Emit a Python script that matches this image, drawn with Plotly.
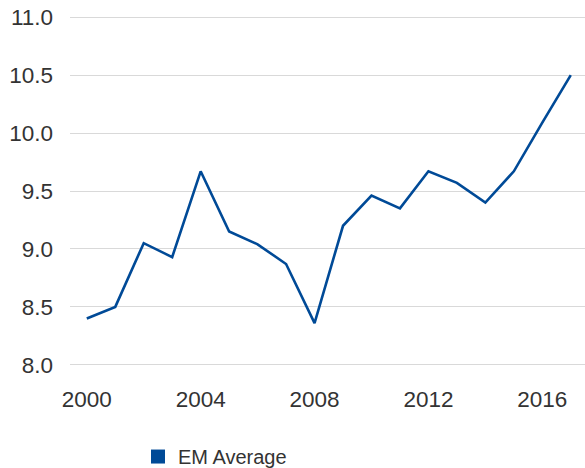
import plotly.graph_objects as go

years = list(range(2000, 2018))
em_average = [8.40, 8.50, 9.05, 8.93, 9.67, 9.15, 9.04, 8.87, 8.36, 9.20,
              9.46, 9.35, 9.67, 9.57, 9.40, 9.67, 10.09, 10.50]
series_name = "EM Average"
x_ticks = [2000, 2004, 2008, 2012, 2016]
y_ticks = [8.0, 8.5, 9.0, 9.5, 10.0, 10.5, 11.0]

color = "#004a97"
family = "Liberation Sans, Arial, sans-serif"
tick_font = dict(family=family, size=22.5, color="#333333")
legend_font = dict(family=family, size=20, color="#333333")

fig = go.Figure()
fig.add_trace(go.Scatter(x=years, y=em_average, mode="lines",
                         line=dict(color=color, width=2.6), showlegend=False))
fig.add_trace(go.Scatter(x=[None], y=[None], mode="markers", name=series_name,
                         marker=dict(symbol="square", size=14, color=color)))

fig.update_layout(
    width=585, height=468,
    margin=dict(l=70, r=0, t=16, b=102),
    paper_bgcolor="white", plot_bgcolor="white",
    font=tick_font,
    xaxis=dict(range=[1999.41, 2017.5], tickvals=x_ticks, showgrid=False,
               zeroline=False, showline=False, ticks="", ticklabelstandoff=17,
               tickfont=tick_font, automargin=False, ticklabeloverflow="allow"),
    yaxis=dict(range=[7.99, 11.01], tickvals=y_ticks, tickformat=".1f",
               showgrid=True, gridcolor="#d9d9d9", gridwidth=1.3,
               zeroline=False, showline=False, ticks="", ticklabelstandoff=16,
               tickfont=tick_font, automargin=False, ticklabeloverflow="allow"),
    legend=dict(orientation="h", x=0.132, xanchor="left",
                yref="container", y=0.0245, yanchor="middle",
                font=legend_font, bgcolor="rgba(0,0,0,0)"),
)

fig.write_html(
    "out.html",
    config={"displayModeBar": False},
    post_script="document.body.style.margin='0';document.body.style.overflow='hidden';",
)
